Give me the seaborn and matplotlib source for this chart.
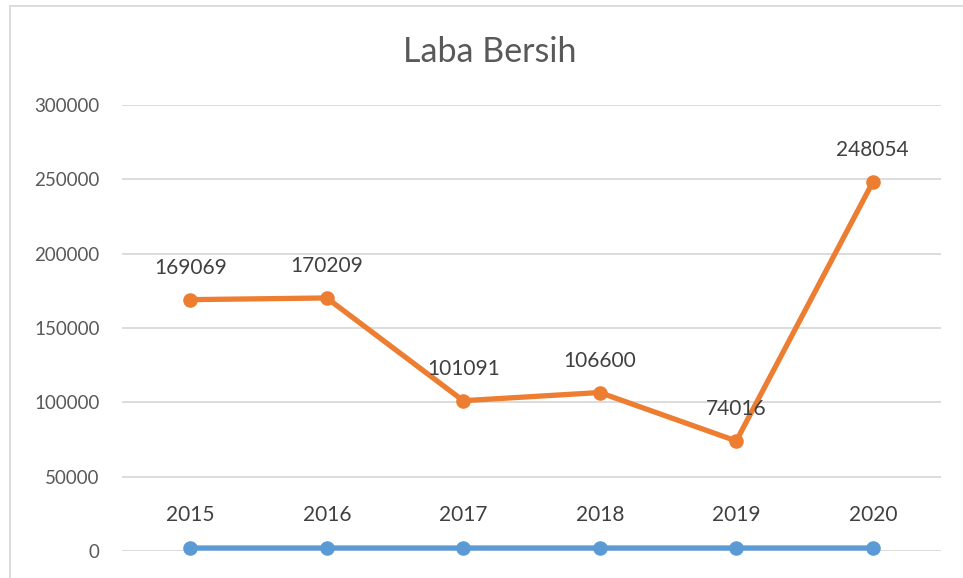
import matplotlib.pyplot as plt
import matplotlib.patches as mpatches
import pandas as pd
import seaborn as sns

tahun = ["2015", "2016", "2017", "2018", "2019", "2020"]
laba_bersih = [169069, 170209, 101091, 106600, 74016, 248054]
tahun_nilai = [2015, 2016, 2017, 2018, 2019, 2020]
y_ticks = [0, 50000, 100000, 150000, 200000, 250000, 300000]

df = pd.DataFrame({'tahun': tahun, 'laba': laba_bersih, 'nilai': tahun_nilai})

sns.set_style('white')
plt.rcParams['font.family'] = ['Lato', 'DejaVu Sans']

fig = plt.figure(figsize=(9.63, 5.78), dpi=100)
ax = fig.add_axes([122 / 963, 27 / 578, 819 / 963, 446 / 578])

orange = '#ED7D31'
blue = '#5B9BD5'

sns.lineplot(data=df, x='tahun', y='nilai', ax=ax, color=blue, linewidth=3.8,
             marker='o', markersize=10.5, markeredgewidth=0, sort=False,
             zorder=3, clip_on=False)
sns.lineplot(data=df, x='tahun', y='laba', ax=ax, color=orange, linewidth=3.8,
             marker='o', markersize=10.5, markeredgewidth=0, sort=False,
             zorder=3, clip_on=False)

for i, v in enumerate(tahun_nilai):
    ax.annotate(str(v), (i, v), xytext=(0, 24), textcoords='offset points',
                ha='center', va='center', fontsize=15, color='#404040')
for i, v in enumerate(laba_bersih):
    ax.annotate(str(v), (i, v), xytext=(0, 23), textcoords='offset points',
                ha='center', va='center', fontsize=15, color='#404040')

ax.set_xlim(-0.5, len(tahun) - 0.5)
ax.set_ylim(0, 300000)
ax.set_yticks(y_ticks)
ax.set_yticklabels([str(t) for t in y_ticks])
ax.tick_params(axis='y', length=0, pad=16, labelsize=13.5, labelcolor='#595959')
ax.set_xticks([])
ax.set_xlabel('')
ax.set_ylabel('')
ax.grid(axis='y', color='#D9D9D9', linewidth=1.3)
ax.set_axisbelow(True)
for s in ax.spines.values():
    s.set_visible(False)

fig.text(490 / 963, 1 - 52 / 578, 'Laba Bersih', fontsize=24.5, color='#595959',
         ha='center', va='center')

# chart border, only top and left edges are in view
fig.patches.append(mpatches.Rectangle((10 / 963, -0.1), 1.2, (578 - 6) / 578 + 0.1,
                                      transform=fig.transFigure, fill=False,
                                      edgecolor='#D9D9D9', linewidth=1.3))

fig.savefig('out.png', dpi=100)
